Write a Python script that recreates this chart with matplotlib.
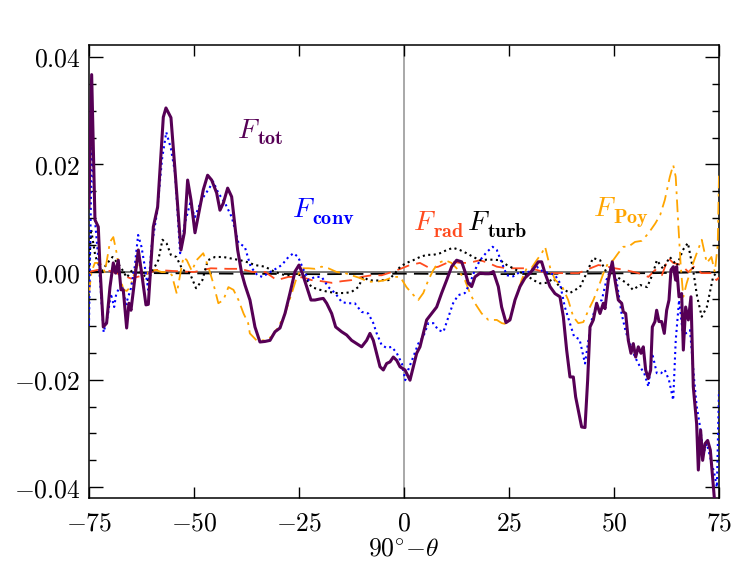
import numpy as np
import matplotlib
matplotlib.use('Agg')
import matplotlib.pyplot as plt
from matplotlib.ticker import MultipleLocator, FuncFormatter

plt.rcParams['mathtext.fontset'] = 'cm'
plt.rcParams['font.family'] = 'serif'
plt.rcParams['font.serif'] = ['DejaVu Serif']

# total flux
x_tot = [-75.0, -74.36, -73.57, -72.78, -72.38, -71.59, -70.8, -70.0, -69.21, -68.65, -68.02, -67.38,
         -66.83, -66.03, -65.48, -65.0, -64.21, -63.25, -62.46, -61.43, -60.87, -59.68, -58.65, -57.3,
         -56.67, -55.48, -54.52, -53.1, -52.3, -51.51, -50.71, -49.76, -48.57, -47.78, -46.75, -45.79,
         -44.6, -43.81, -43.02, -41.98, -41.03, -39.6, -38.65, -37.86, -36.67, -35.48, -34.29, -33.1,
         -31.9, -30.71, -29.52, -28.33, -27.14, -25.95, -25.0, -24.21, -23.17, -22.14, -21.19, -20.0,
         -19.21, -18.41, -17.22, -16.27, -14.84, -13.65, -12.46, -11.27, -10.08, -8.89, -8.1, -7.3,
         -6.51, -5.71, -4.92, -4.13, -3.33, -2.54, -1.75, -0.95, 0.24, 1.43, 2.22, 3.02, 3.81, 4.6,
         5.4, 6.59, 7.78, 8.97, 10.16, 11.35, 12.54, 13.73, 14.52, 15.32, 16.11, 16.9, 18.1, 19.29,
         20.32, 21.27, 22.46, 23.25, 24.29, 25.24, 26.43, 27.62, 28.81, 30.0, 31.19, 31.98, 32.78,
         33.57, 34.76, 35.95, 37.14, 37.94, 38.73, 39.52, 40.32, 40.87, 41.67, 42.3, 43.1, 43.73,
         44.29, 45.08, 45.87, 46.67, 47.46, 47.86, 48.65, 49.6, 50.24, 51.03, 51.83, 52.22, 52.78,
         53.41, 54.05, 54.6, 55.16, 55.79, 56.43, 56.98, 57.54, 58.17, 58.73, 59.13, 59.76, 60.16,
         60.71, 61.35, 61.98, 62.54, 63.1, 63.57, 64.13, 64.68, 64.92, 65.48, 66.11, 66.51, 67.06,
         67.7, 68.33, 68.88, 69.68, 70.08, 70.63, 71.11, 71.67, 72.3, 72.94, 73.41, 73.89, 75.0]
f_tot = [0.012, 0.0367, 0.0097, 0.0084, 0.001, -0.0102, -0.0095, -0.0028, 0.0017, -0.0002, 0.0022,
         -0.0033, -0.0033, -0.0104, -0.0058, -0.0071, -0.002, 0.0041, -0.0002, -0.0061, -0.006,
         0.0084, 0.0121, 0.0288, 0.0305, 0.0287, 0.019, 0.0041, 0.0073, 0.0171, 0.0134, 0.0073,
         0.0121, 0.0153, 0.018, 0.0171, 0.0147, 0.0115, 0.0128, 0.0156, 0.014, 0.0041, -0.0002,
         -0.0024, -0.0052, -0.0102, -0.013, -0.0129, -0.0127, -0.0111, -0.0104, -0.0077, -0.0039,
         0.0001, 0.0013, -0.0002, -0.0027, -0.0052, -0.0052, -0.005, -0.0049, -0.0058, -0.0077,
         -0.0102, -0.0111, -0.0117, -0.0127, -0.0133, -0.0139, -0.0127, -0.0114, -0.0127, -0.0151,
         -0.0176, -0.0182, -0.017, -0.0167, -0.0158, -0.0164, -0.0176, -0.0182, -0.0201, -0.0176,
         -0.0151, -0.0139, -0.0114, -0.0089, -0.0077, -0.0065, -0.0039, -0.0015, 0.001, 0.0022,
         0.0019, 0.0001, -0.0021, -0.0027, -0.0009, -0.0002, -0.0003, -0.0003, 0.0001, -0.0027,
         -0.0065, -0.0094, -0.0089, -0.0052, -0.0027, -0.0011, -0.0002, 0.001, 0.0019, 0.0019,
         -0.0002, -0.0027, -0.004, -0.0046, -0.0083, -0.0145, -0.0195, -0.0195, -0.0232, -0.0263,
         -0.0288, -0.0289, -0.0201, -0.0102, -0.0089, -0.0058, -0.0077, -0.0058, -0.0068, -0.0015,
         0.0019, -0.0015, -0.0052, -0.0058, -0.0074, -0.0077, -0.0127, -0.0151, -0.0133, -0.0158,
         -0.0139, -0.0151, -0.0139, -0.0182, -0.0198, -0.0182, -0.0102, -0.0092, -0.0071, -0.0092,
         -0.0092, -0.0114, -0.0071, -0.0052, 0.0004, 0.001, -0.0015, 0.001, -0.0046, -0.004, -0.0145,
         -0.0065, -0.0089, -0.0046, -0.0213, -0.0282, -0.0368, -0.0294, -0.035, -0.0319, -0.0313,
         -0.0331, -0.0375, -0.042, -0.046]

# convective flux
x_conv = [-75.0, -74.3, -73.5, -72.5, -71.5, -70.5, -69.8, -69.0, -68.5, -67.8, -67.0, -66.2, -65.0,
          -64.1, -63.3, -62.5, -61.7, -60.9, -60.1, -58.8, -57.6, -56.6, -55.5, -54.5, -53.3, -52.2,
          -50.9, -49.8, -48.2, -46.6, -45.4, -44.2, -42.6, -41.0, -39.4, -37.9, -36.5, -34.9, -33.7,
          -31.9, -30.3, -29.1, -27.5, -26.3, -25.2, -23.9, -22.7, -21.2, -19.6, -18.0, -16.4, -14.8,
          -13.3, -11.7, -10.1, -8.5, -7.3, -6.5, -5.3, -4.1, -2.9, -1.7, -0.5, 0.3, 1.0, 2.2, 3.4,
          4.6, 5.8, 7.0, 8.2, 9.4, 10.6, 11.7, 12.9, 14.5, 15.7, 16.9, 18.1, 19.7, 21.1, 22.1, 23.3,
          24.5, 26.0, 27.6, 29.2, 30.4, 31.6, 33.2, 34.8, 36.0, 37.1, 38.3, 39.5, 40.5, 41.8, 43.1,
          43.9, 44.7, 45.9, 47.1, 48.2, 49.4, 50.6, 51.8, 52.8, 53.8, 55.0, 56.2, 57.2, 58.2, 59.1,
          60.2, 61.2, 62.1, 63.1, 64.1, 64.7, 65.5, 66.3, 67.1, 68.1, 69.1, 69.7, 70.5, 71.3, 72.1,
          72.9, 73.9, 74.5, 75.0]
f_conv = [-0.010, 0.025, 0.009, 0.0, -0.0112, -0.008, -0.004, -0.0065, -0.004, -0.003, -0.003,
          -0.006, -0.003, 0.001, 0.0069, 0.0047, 0.001, -0.0033, 0.0047, 0.011, 0.021, 0.026, 0.023,
          0.0184, 0.0035, 0.009, 0.0128, 0.0102, 0.0134, 0.0153, 0.0168, 0.0147, 0.0128, 0.0102,
          0.0054, 0.0047, 0.001, -0.0006, -0.0009, 0.0, 0.0007, 0.0013, 0.0028, 0.0035, 0.0028,
          0.0004, -0.0015, -0.0009, -0.0009, -0.0028, -0.0039, -0.0056, -0.0058, -0.0058, -0.0074,
          -0.0077, -0.0095, -0.0114, -0.0136, -0.0141, -0.0139, -0.0151, -0.017, -0.0201, -0.0182,
          -0.0158, -0.0133, -0.012, -0.0095, -0.0095, -0.0108, -0.0111, -0.0083, -0.0058, -0.0043,
          -0.0039, -0.0021, 0.0004, 0.0022, 0.0037, 0.0047, 0.0041, 0.0017, -0.0006, -0.0008, 0.0,
          0.0, 0.0001, 0.001, 0.0, -0.0002, -0.0006, -0.002, -0.0065, -0.0095, -0.012, -0.0125,
          -0.017, -0.0127, -0.0089, -0.0058, -0.0052, -0.0015, 0.001, -0.0015, -0.0077, -0.0111,
          -0.0133, -0.0158, -0.0176, -0.0188, -0.0213, -0.0151, -0.0188, -0.0188, -0.0182, -0.0201,
          -0.0238, -0.0127, -0.0052, -0.0108, -0.0114, -0.0108, -0.0201, -0.025, -0.0288, -0.0337,
          -0.0319, -0.0344, -0.0375, -0.040, -0.022]

# radiative flux
x_rad = [-75.0, -73.0, -70.0, -67.0, -65.0, -63.0, -61.0, -59.0, -55.0, -50.0, -46.0, -42.0, -39.0,
         -36.0, -33.0, -30.3, -27.5, -25.9, -24.0, -22.0, -19.6, -17.2, -14.8, -12.5, -10.1, -7.7,
         -5.3, -2.9, -0.5, 1.4, 3.8, 6.2, 8.2, 10.2, 11.7, 13.3, 14.9, 16.5, 18.1, 20.1, 22.1, 24.5,
         26.8, 29.2, 31.6, 34.0, 36.3, 38.0, 41.5, 46.3, 47.9, 50.2, 52.6, 55.8, 58.2, 59.8, 61.4,
         62.9, 64.1, 66.1, 67.7, 69.2, 70.8, 73.2, 74.4, 75.0]
f_rad = [0.0, 0.0004, 0.0002, -0.0006, -0.0012, -0.0008, -0.0003, 0.0004, 0.0002, 0.0, 0.0007,
         0.0006, 0.0006, 0.0, 0.0, -0.0015, -0.0009, -0.0009, -0.001, -0.0015, -0.0017, -0.002,
         -0.0017, -0.0015, -0.0009, -0.0006, -0.0006, 0.0, 0.0007, 0.0013, 0.0017, 0.0007, 0.001,
         0.0017, 0.0019, 0.0017, 0.0017, 0.0019, 0.0022, 0.0017, 0.001, 0.0007, 0.0007, 0.0007,
         0.0004, -0.0002, -0.0002, -0.0002, -0.0002, 0.0013, 0.0011, 0.0007, 0.0004, -0.0002,
         -0.0009, 0.0004, -0.0006, 0.0026, 0.0017, 0.0013, 0.0, 0.0011, -0.0002, -0.0002, -0.0015,
         -0.001]

# turbulent flux
x_turb = [-75.0, -74.5, -73.5, -72.0, -70.8, -69.4, -67.5, -66.0, -64.5, -62.5, -61.0, -60.0, -58.5,
          -57.5, -56.5, -55.5, -54.2, -52.7, -51.0, -49.5, -48.0, -46.7, -45.0, -43.0, -41.0, -39.0,
          -37.1, -35.5, -33.1, -30.7, -28.3, -25.9, -23.9, -22.0, -20.0, -18.0, -16.0, -14.0, -12.5,
          -10.9, -9.7, -8.5, -6.9, -5.3, -3.7, -2.1, -0.9, 0.6, 2.2, 3.8, 5.4, 7.0, 8.6, 10.2, 11.7,
          13.3, 14.9, 16.5, 18.1, 19.7, 21.3, 22.9, 24.5, 26.0, 27.6, 29.2, 30.8, 32.4, 34.0, 35.6,
          37.1, 39.5, 41.9, 43.6, 45.0, 46.7, 48.3, 50.7, 53.1, 54.5, 56.2, 57.9, 59.3, 60.2, 61.7,
          63.3, 65.0, 66.4, 67.6, 68.8, 69.8, 70.9, 72.1, 73.6, 74.5, 75.0]
f_turb = [0.0, 0.008, 0.003, 0.0, 0.0015, 0.0028, 0.001, -0.001, 0.0006, 0.0, -0.0015, 0.0, 0.0022,
          0.006, 0.0053, 0.0032, 0.0028, 0.0004, -0.0002, -0.003, -0.0015, 0.0022, 0.0028, 0.0028,
          0.0025, 0.0022, 0.0018, 0.0013, 0.001, 0.0, -0.0006, -0.0005, -0.0006, -0.0028, -0.0033,
          -0.0037, -0.0039, -0.0039, -0.0037, -0.0028, -0.0009, -0.0015, -0.0016, -0.0015, -0.0015,
          -0.0002, 0.001, 0.0017, 0.0022, 0.0028, 0.0032, 0.0032, 0.0035, 0.0041, 0.0045, 0.0041,
          0.0035, 0.0028, 0.0022, 0.0023, 0.0023, 0.0022, 0.0013, 0.0007, 0.0, -0.0006, -0.0015,
          -0.0021, -0.002, -0.0012, -0.0028, -0.0039, -0.0028, 0.0, 0.0026, 0.0022, -0.0002, -0.0009,
          -0.0021, -0.0033, -0.0024, -0.0028, -0.0002, 0.0022, 0.0006, 0.0028, 0.0012, 0.0041,
          0.0054, 0.0006, -0.0046, -0.0083, -0.0065, -0.0009, 0.0, 0.0]

# Poynting flux
x_poy = [-75.0, -74.4, -73.6, -72.4, -71.2, -70.0, -69.2, -68.4, -67.6, -66.8, -66.0, -65.2, -64.1,
         -62.9, -62.1, -60.9, -59.3, -57.7, -56.5, -55.3, -54.1, -53.3, -52.5, -51.7, -50.5, -49.4,
         -47.8, -46.6, -45.4, -44.2, -43.0, -41.8, -40.6, -39.4, -38.2, -37.1, -36.7, -35.1, -33.1,
         -31.5, -29.9, -28.3, -26.7, -25.5, -24.3, -22.7, -21.2, -19.6, -18.0, -16.0, -14.0, -12.5,
         -10.5, -8.5, -6.5, -4.5, -2.5, -0.9, 0.6, 1.8, 3.4, 4.6, 5.8, 7.0, 8.2, 9.8, 11.3, 12.9,
         14.5, 15.7, 16.9, 18.5, 20.1, 22.1, 23.3, 24.5, 25.6, 26.8, 28.0, 29.2, 30.4, 31.6, 32.8,
         33.6, 34.8, 36.0, 37.5, 39.1, 40.3, 41.5, 42.7, 43.9, 45.1, 46.3, 47.5, 48.6, 49.8, 51.0,
         52.2, 53.4, 55.0, 56.6, 58.2, 59.8, 61.0, 62.1, 63.3, 64.1, 64.7, 65.3, 65.9, 66.5, 67.3,
         68.5, 69.7, 70.9, 72.1, 73.2, 74.0, 74.7, 75.0]
f_poy = [-0.004, 0.0, 0.0017, 0.0017, 0.0, 0.0056, 0.0065, 0.0035, -0.0009, -0.0033, -0.0035, -0.0028,
         0.0, 0.0022, -0.0015, 0.0, 0.0004, 0.0, 0.0, -0.0005, -0.004, -0.0005, 0.0028, 0.0022,
         0.0002, 0.0022, 0.0035, 0.001, -0.0021, -0.0058, -0.0052, -0.0028, -0.0033, -0.0052, -0.0077,
         -0.0095, -0.0114, -0.0127, -0.0127, -0.012, -0.0102, -0.0077, -0.0039, -0.0009, 0.0007,
         0.0007, 0.0006, 0.001, 0.0007, 0.0, -0.0002, -0.0006, -0.0011, -0.0018, -0.0018, -0.0015,
         -0.0009, -0.0009, -0.0028, -0.0039, -0.0052, -0.0039, -0.0015, 0.0004, 0.0017, 0.0022,
         0.0017, 0.0004, -0.0015, -0.0039, -0.0058, -0.0077, -0.0089, -0.0089, -0.0095, -0.0097,
         -0.0077, -0.0046, -0.0015, 0.0007, 0.0008, 0.0022, 0.0035, 0.0047, 0.0008, -0.0015, -0.0024,
         -0.0052, -0.0083, -0.0095, -0.0093, -0.0071, -0.0052, -0.0028, -0.0002, 0.0017, 0.0022,
         0.0035, 0.0047, 0.0047, 0.0056, 0.0058, 0.0072, 0.009, 0.0106, 0.0134, 0.0177, 0.0199,
         0.0177, 0.009, 0.001, -0.0046, -0.0021, 0.0009, 0.0035, 0.006, 0.0017, 0.0028, 0.0, 0.005,
         0.018]

# near-zero dashed reference curve
x_zero = [-75.0, -60.0, -40.0, -20.0, 0.0, 20.0, 40.0, 60.0, 75.0]
f_zero = [0.0001, -0.0002, -0.0003, -0.0004, -0.0003, -0.0004, -0.0003, -0.0002, 0.0]

# curve labels: subscript, colour, position of F and of subscript
labels = ['tot', 'conv', 'rad', 'turb', 'Poy']
label_colors = ['#560055', 'blue', '#ff4a1e', 'black', 'orange']
label_xy = [(-39.8, 0.0249), (-26.7, 0.0102), (2.1, 0.0078), (15.0, 0.0078), (45.0, 0.0104)]
sub_xy = [(-35.0, 0.0238), (-21.9, 0.0089), (6.9, 0.0065), (19.8, 0.0065), (49.8, 0.0091)]

fig = plt.figure(figsize=(7.47, 5.75), dpi=100)
ax = fig.add_axes([0.1191, 0.1339, 0.8434, 0.7878])

ax.axvline(0, color='#999999', lw=1.2, zorder=1)
ax.axhline(0, color='#666666', lw=1.2, zorder=1)
ax.plot(x_zero, f_zero, color='black', lw=1.3, dashes=(8, 4), zorder=2)
ax.plot(x_rad, f_rad, color='#ff4a1e', lw=1.3, dashes=(7, 4), zorder=3)
ax.plot(x_turb, f_turb, color='black', lw=1.5, ls=':', zorder=3)
ax.plot(x_poy, f_poy, color='orange', lw=1.3, dashes=(7, 3, 1.5, 3), zorder=3)
ax.plot(x_conv, f_conv, color='blue', lw=1.5, ls=':', zorder=4)
ax.plot(x_tot, f_tot, color='#560055', lw=2.2, zorder=5)

ax.set_xlim(-75, 75)
ax.set_ylim(-0.042, 0.0422)

ax.xaxis.set_major_locator(MultipleLocator(25))
ax.yaxis.set_major_locator(MultipleLocator(0.02))
ax.yaxis.set_minor_locator(MultipleLocator(0.005))
ax.tick_params(which='both', direction='in', top=True, right=True, width=1.0, labelsize=18.5)
ax.tick_params(which='major', length=10)
ax.tick_params(which='minor', length=5)
ax.tick_params(axis='x', which='major', length=8, pad=9)
ax.tick_params(axis='y', which='major', pad=6)
ax.xaxis.set_major_formatter(FuncFormatter(lambda v, p: r'$\mathsf{%d}$' % round(v)))
ax.yaxis.set_major_formatter(FuncFormatter(lambda v, p: r'$\mathsf{%.2f}$' % (0.0 if abs(v) < 1e-9 else v)))
for s in ax.spines.values():
    s.set_linewidth(1.1)

ax.set_xlabel(r'$\mathsf{90}^{\circ}{-}\theta$', fontsize=18.5, labelpad=0)

for name, col, (fx, fy), (sx, sy) in zip(labels, label_colors, label_xy, sub_xy):
    ax.text(fx, fy, r'$F$', color=col, fontsize=20)
    ax.text(sx, sy, r'$\mathbf{%s}$' % name, color=col, fontsize=14.5)

fig.savefig('out.png', dpi=100)
